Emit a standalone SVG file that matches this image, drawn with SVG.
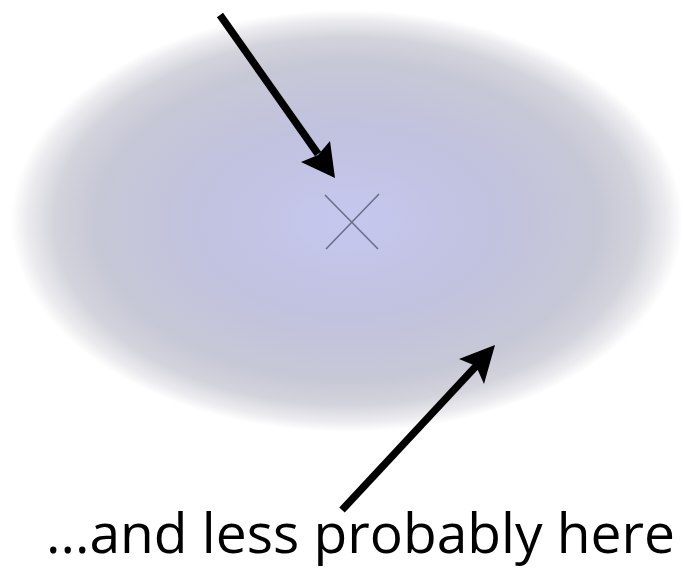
<svg xmlns="http://www.w3.org/2000/svg" width="684" height="570" viewBox="0 0 684 570">
  <defs>
    <radialGradient id="blob" cx="0.5" cy="0.5" r="0.5">
      <stop offset="0" stop-color="#c5c7ef"/>
      <stop offset="0.45" stop-color="#c1c2de"/>
      <stop offset="0.75" stop-color="#c7c8d6"/>
      <stop offset="0.87" stop-color="#d3d3dc"/>
      <stop offset="0.95" stop-color="#ebebef"/>
      <stop offset="1" stop-color="#ffffff"/>
    </radialGradient>
    <style>
      .shaft { stroke: #000; stroke-width: 7.5; fill: none; }
      .head { fill: #000; }
      .xmark { stroke: #6e6e88; stroke-width: 1.6; fill: none; }
      .label { font-family: "Open Sans", "Noto Sans", sans-serif; font-size: 55px; fill: #000; }
    </style>
  </defs>
  <rect width="684" height="570" fill="#ffffff"/>
  <g id="distribution">
    <ellipse cx="347" cy="221" rx="336" ry="211" fill="url(#blob)"/>
  </g>
  <g id="center-mark">
    <path class="xmark" d="M325 195 L378 249 M379 194 L326 249"/>
  </g>
  <g id="connectors">
    <g id="arrow-top">
      <line class="shaft" x1="220" y1="15" x2="318" y2="154"/>
      <path class="head" d="M335 178 L301 162 L318 155 L330 141 Z"/>
    </g>
    <g id="arrow-bottom">
      <line class="shaft" x1="342" y1="510" x2="478" y2="364"/>
      <path class="head" d="M495 345 L459 359 L476 366 L484 384 Z"/>
    </g>
  </g>
  <g id="label">
    <text class="label" x="46" y="553" textLength="629" lengthAdjust="spacingAndGlyphs">...and less probably here</text>
  </g>
</svg>
